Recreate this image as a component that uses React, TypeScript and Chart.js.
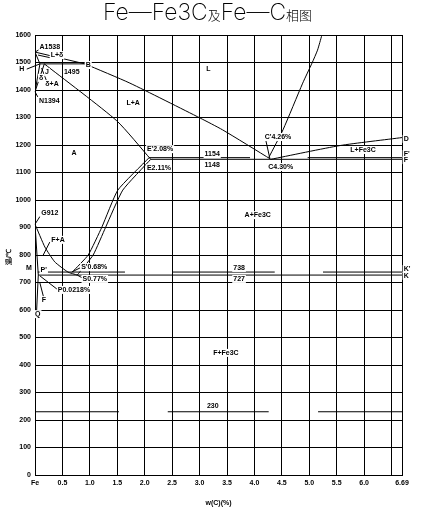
import React, { useEffect, useRef } from "react";
import { Chart, registerables } from "chart.js";

Chart.register(...registerables);

// ---- axis ticks ----
const X_TICKS = [0, 0.5, 1, 1.5, 2, 2.5, 3, 3.5, 4, 4.5, 5, 5.5, 6, 6.5, 6.69];
const Y_MIN = 0;
const Y_MAX = 1600;
const Y_STEP = 100;

// ---- phase boundary lines (w(C) %, temperature °C) ----
const AB = [[0, 1538], [0.91, 1495]];
const BC = [[0.91, 1495], [1.73, 1425], [3.01, 1298], [3.42, 1255], [4.3, 1148]];
const CD = [[4.3, 1148], [5.56, 1198], [6.69, 1227]];
const C1D1 = [[4.26, 1154], [4.52, 1255], [4.88, 1425], [5.05, 1498], [5.15, 1545], [5.23, 1600]];
const AH = [[0, 1538], [0.09, 1495]];
const HJB = [[0.09, 1495], [0.91, 1495]];
const HN = [[0.09, 1495], [0, 1394]];
const JN = [[0.17, 1495], [0, 1394]];
const JE = [[0.17, 1495], [1.49, 1288], [2.11, 1148]];
const ES = [[2.11, 1148], [1.6, 1036], [1.29, 902], [1.06, 800], [0.77, 727]];
const E1S1 = [[2.08, 1154], [1.51, 1036], [1.22, 902], [0.97, 800], [0.68, 738]];
const GS = [[0, 912], [0.18, 829], [0.36, 775], [0.6, 738], [0.77, 727]];
const GP = [[0, 912], [0.06, 727]];
const PQ = [[0.06, 727], [0.03, 600]];
const ECF = [[2.11, 1148], [6.69, 1148]];
const PSK = [[0.06, 727], [6.69, 727]];
const E1C1F1_SEGS = [
  [[2.08, 1154], [3.92, 1154]],
  [[4.97, 1154], [6.69, 1154]],
];
const P1S1K1_SEGS = [
  [[0.05, 738], [1.64, 738]],
  [[2.51, 738], [4.37, 738]],
  [[5.25, 738], [6.69, 738]],
];
const LINE230_SEGS = [
  [[0, 230], [1.53, 230]],
  [[2.42, 230], [4.26, 230]],
  [[5.16, 230], [6.69, 230]],
];

// ---- label pointer lines ----
const POINTERS = [
  [[0, 1538], [0.13, 1553]],
  [[0.055, 1527], [0.31, 1516]],
  [[-0.15, 1476], [0.09, 1495]],
  [[0.12, 1480], [0.22, 1428]],
  [[0, 1394], [0.05, 1375]],
  [[0, 912], [0.09, 940]],
  [[0.27, 847], [0.15, 800]],
  [[0.42, 673], [0.09, 724]],
  [[0.16, 644], [0.09, 698]],
  [[0.82, 753], [0.67, 738]],
  [[0.87, 716], [0.77, 727]],
  [[4.21, 1215], [4.28, 1152]],
];

// ---- text labels: [text, w(C) %, temperature, align] ----
const LABELS: [string, number, number, string?][] = [
  ["L", 3.16, 1476],
  ["L+A", 1.79, 1353],
  ["A", 0.71, 1171],
  ["A+Fe3C", 4.06, 945],
  ["L+Fe3C", 5.98, 1182],
  ["F+Fe3C", 3.48, 444],
  ["230", 3.24, 251],
  ["1154", 3.23, 1167],
  ["1148", 3.23, 1127],
  ["738", 3.72, 753],
  ["727", 3.72, 713],
  ["E'2.08%", 2.28, 1185],
  ["E2.11%", 2.26, 1116],
  ["C'4.26%", 4.43, 1229],
  ["C4.30%", 4.48, 1120],
  ["S'0.68%", 1.08, 756],
  ["S0.77%", 1.09, 713],
  ["P0.0218%", 0.71, 673],
  ["P'", 0.16, 745],
  ["M", -0.11, 753],
  ["F", 0.16, 636],
  ["Q", 0.05, 585],
  ["F+A", 0.42, 855],
  ["G912", 0.27, 953],
  ["N1394", 0.26, 1360],
  ["A1538", 0.27, 1556],
  ["L+δ", 0.4, 1527],
  ["H", -0.24, 1476],
  ["B", 0.97, 1491],
  ["1495", 0.67, 1465],
  ["J", 0.22, 1465],
  ["δ", 0.11, 1444],
  ["δ+A", 0.31, 1422],
  ["D", 6.72, 1222, "left"],
  ["F'", 6.72, 1167, "left"],
  ["F", 6.72, 1145, "left"],
  ["K'", 6.72, 749, "left"],
  ["K", 6.72, 724, "left"],
];

const TITLE_PARTS: [string, boolean][] = [
  ["Fe", true],
  ["—", true],
  ["Fe3C", true],
  ["及", false],
  ["Fe", true],
  ["—", true],
  ["C", true],
  ["相图", false],
];
const X_TITLE = "w(C)(%)";
const Y_TITLE = "温/℃";

const SMALL_FONT = "bold 7px 'Liberation Sans', Arial, sans-serif";

function lineDs(points: number[][], tension = 0, clip: any = undefined) {
  const ds: any = {
    data: points.map(([x, y]) => ({ x, y })),
    showLine: true,
    borderColor: "#000",
    borderWidth: 1,
    pointRadius: 0,
    pointHoverRadius: 0,
    fill: false,
    tension,
  };
  if (clip !== undefined) ds.clip = clip;
  return ds;
}

const textPlugin = {
  id: "fcText",
  afterDatasetsDraw(chart: any) {
    const ctx = chart.ctx as CanvasRenderingContext2D;
    const xs = chart.scales.x;
    const ys = chart.scales.y;
    const area = chart.chartArea;
    ctx.save();
    ctx.font = SMALL_FONT;
    ctx.textBaseline = "middle";
    for (const [text, x, y, align] of LABELS) {
      const px = xs.getPixelForValue(x);
      const py = ys.getPixelForValue(y);
      const w = ctx.measureText(text).width;
      const a = align || "center";
      const left = a === "left" ? px : px - w / 2;
      ctx.fillStyle = "#fff";
      ctx.fillRect(left - 1, py - 4, w + 2, 8);
      ctx.fillStyle = "#000";
      ctx.textAlign = a as CanvasTextAlign;
      ctx.fillText(text, px, py);
    }
    // x title
    ctx.textAlign = "center";
    ctx.fillText(X_TITLE, (area.left + area.right) / 2, 503);
    // y title
    ctx.save();
    ctx.translate(9, (area.top + area.bottom) / 2 + 2);
    ctx.rotate(-Math.PI / 2);
    ctx.fillText(Y_TITLE, 0, 0);
    ctx.restore();

    // main title, mixed sizes
    const bigFont = "200 23px Inter, 'Open Sans', 'DejaVu Sans', sans-serif";
    const smallFont = "200 13px 'Noto Sans CJK SC', sans-serif";
    let total = 0;
    const widths: number[] = [];
    for (const [t, big] of TITLE_PARTS) {
      ctx.font = big ? bigFont : smallFont;
      const w = ctx.measureText(t).width;
      widths.push(w);
      total += w;
    }
    const targetLeft = 103;
    const targetWidth = 209;
    const sx = targetWidth / total;
    ctx.translate(targetLeft, 20);
    ctx.scale(sx, 1);
    ctx.textAlign = "left";
    ctx.textBaseline = "alphabetic";
    let cx = 0;
    TITLE_PARTS.forEach(([t, big], i) => {
      ctx.font = big ? bigFont : smallFont;
      ctx.fillText(t, cx, 0);
      cx += widths[i];
    });
    ctx.restore();
  },
};

export default function App() {
  const ref = useRef<HTMLCanvasElement>(null);
  useEffect(() => {
    if (!ref.current) return;
    const datasets: any[] = [
      lineDs(AB),
      lineDs(BC, 0.2),
      lineDs(CD, 0.2),
      lineDs(C1D1, 0.2),
      lineDs(AH),
      lineDs(HJB),
      lineDs(HN),
      lineDs(JN),
      lineDs(JE, 0.2),
      lineDs(ES, 0.15),
      lineDs(E1S1, 0.15),
      lineDs(GS, 0.15),
      lineDs(GP),
      lineDs(PQ),
      lineDs(ECF),
      lineDs(PSK),
      ...E1C1F1_SEGS.map((s) => lineDs(s)),
      ...P1S1K1_SEGS.map((s) => lineDs(s)),
      ...LINE230_SEGS.map((s) => lineDs(s)),
      ...POINTERS.map((s) => lineDs(s, 0, false)),
    ];
    const tickFont = { family: "'Liberation Sans', Arial, sans-serif", size: 7, weight: "bold" as const };
    const chart = new Chart(ref.current, {
      type: "scatter",
      data: { datasets },
      options: {
        animation: false,
        responsive: false,
        devicePixelRatio: 1,
        layout: { padding: { top: 35, right: 21, left: 0, bottom: 0 } },
        plugins: { legend: { display: false }, tooltip: { enabled: false }, title: { display: false } },
        events: [],
        scales: {
          x: {
            type: "linear",
            min: 0,
            max: 6.69,
            afterBuildTicks: (scale: any) => {
              scale.ticks = X_TICKS.map((value) => ({ value }));
            },
            afterFit: (scale: any) => {
              scale.height = 34;
            },
            ticks: {
              autoSkip: false,
              maxRotation: 0,
              minRotation: 0,
              padding: 4,
              color: "#000",
              font: tickFont,
              callback: (value: any) => {
                const v = Number(value);
                if (v === 0) return "Fe";
                if (v === 6.5) return "";
                if (v === 6.69) return "6.69";
                return v.toFixed(1);
              },
            },
            grid: { color: "#000", lineWidth: 1, drawTicks: false },
            border: { color: "#000", width: 1 },
          },
          y: {
            type: "linear",
            min: Y_MIN,
            max: Y_MAX,
            afterFit: (scale: any) => {
              scale.width = 35;
            },
            ticks: {
              stepSize: Y_STEP,
              padding: 4,
              color: "#000",
              font: tickFont,
              callback: (value: any) => String(value),
            },
            grid: { color: "#000", lineWidth: 1, drawTicks: false },
            border: { color: "#000", width: 1 },
          },
        },
      },
      plugins: [textPlugin],
    });
    return () => chart.destroy();
  }, []);
  return (
    <div style={{ position: "fixed", left: 0, top: 0, width: 423, height: 509, background: "#fff" }}>
      <canvas ref={ref} width={423} height={509} style={{ display: "block" }} />
    </div>
  );
}
